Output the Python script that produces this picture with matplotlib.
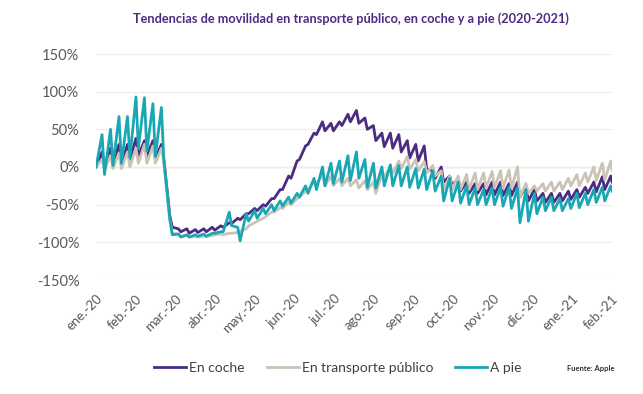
import matplotlib.pyplot as plt
import numpy as np

plt.rcParams['font.family'] = ['Lato', 'DejaVu Sans']

# Apple mobility trends, Spain (% change vs. baseline), one low and one high value per week
# first week starts Mon 13 Jan 2020; lows on day 0 of the week, highs on day 5
coche_valle = [0, 0, 5, 5, 10, 15, 15, 12, 10,
               -80, -86, -88, -87, -86, -84, -80, -75, -70,
               -62, -58, -52, -42, -30, -15, 10, 30, 43,
               48, 48, 55, 60, 58, 50, 35, 27, 25,
               20, 12, 8, -3, -15, -20, -25, -32, -35,
               -35, -37, -37, -38, -38, -40, -45, -45, -47,
               -47, -45, -43, -40, -35, -33, -30]
coche_pico = [20, 25, 30, 30, 38, 35, 35, 30, -65,
              -82, -82, -83, -82, -80, -78, -74, -68, -62,
              -55, -50, -42, -30, -12, 8, 28, 45, 60,
              58, 60, 70, 75, 65, 55, 45, 45, 43,
              35, 30, 28, -5, 0, -12, -15, -20, -22,
              -22, -20, -20, -22, -20, -25, -30, -35, -35,
              -35, -32, -30, -27, -20, -13, -12]
transporte_valle = [0, -3, -2, -2, 0, 5, 5, 5, 5,
                    -88, -92, -93, -93, -92, -90, -90, -88, -85,
                    -78, -72, -66, -60, -55, -50, -40, -30, -22,
                    -25, -25, -25, -25, -28, -30, -35, -12, -8,
                    -2, -3, -5, -8, -12, -30, -30, -30, -30,
                    -30, -28, -28, -28, -28, -40, -35, -32, -32,
                    -32, -30, -25, -25, -20, -18, -17]
transporte_pico = [10, 15, 18, 20, 25, 30, 28, 25, -70,
                   -89, -91, -92, -92, -91, -89, -88, -87, -82,
                   -74, -68, -60, -54, -47, -42, -32, -20, -10,
                   -12, -15, -15, -17, -18, -20, -10, 0, 8,
                   14, 10, 7, 2, -5, -12, -12, -10, -8,
                   -8, -6, -5, -4, 0, -22, -25, -22, -20,
                   -20, -15, -10, -8, 0, 5, 8]
pie_valle = [0, -10, 2, 5, 12, 25, 21, 14, 10,
             -90, -93, -93, -92, -92, -88, -86, -78, -98,
             -72, -68, -62, -58, -52, -48, -40, -35, -30,
             -25, -22, -20, -18, -15, -27, -28, -25, -25,
             -25, -27, -28, -30, -32, -45, -45, -48, -50,
             -50, -50, -50, -52, -55, -74, -72, -62, -58,
             -58, -58, -55, -54, -50, -47, -45]
pie_pico = [43, 50, 67, 67, 93, 92, 84, 79, -70,
            -89, -90, -90, -89, -88, -86, -60, -80, -62,
            -58, -55, -50, -45, -40, -35, -25, -15, 0,
            5, 8, 15, 20, 10, 5, 0, 3, 2,
            0, -2, -3, -5, -12, -15, -20, -25, -28,
            -30, -28, -27, -27, -28, -30, -35, -40, -40,
            -42, -42, -35, -35, -30, -27, -25]
ultimo_dia = 426
ultimo = {"coche": -20, "transporte": -4, "pie": -32}

meses = ["ene.-20", "feb.-20", "mar.-20", "abr.-20", "may.-20", "jun.-20", "jul.-20",
         "ago.-20", "sep.-20", "oct.-20", "nov.-20", "dic.-20", "ene.-21", "feb.-21"]

titulo = "Tendencias de movilidad en transporte público, en coche y a pie (2020-2021)"


def serie(valle, pico, fin):
    dias, vals = [], []
    for k, (v, p) in enumerate(zip(valle, pico)):
        dias += [7 * k, 7 * k + 5]
        vals += [v, p]
    return dias + [ultimo_dia], vals + [fin]


fig = plt.figure(figsize=(6.43, 3.94), dpi=100)
ax = fig.add_axes([96 / 643, 1 - 280 / 394, 516 / 643, 226 / 394])

series = [
    ("En coche", coche_valle, coche_pico, ultimo["coche"], "#4b2c82"),
    ("En transporte público", transporte_valle, transporte_pico, ultimo["transporte"], "#cbc3b6"),
    ("A pie", pie_valle, pie_pico, ultimo["pie"], "#19a7b4"),
]
for nombre, valle, pico, fin, color in series:
    d, v = serie(valle, pico, fin)
    ax.plot(d, v, color=color, lw=2.0, label=nombre, solid_joinstyle="round")

ax.set_xlim(0, ultimo_dia)
ax.set_ylim(-150, 150)
ax.set_yticks(range(-150, 151, 50))
ax.set_yticklabels([f"{v}%" for v in range(-150, 151, 50)])
ax.yaxis.grid(True, color="#ececec", lw=0.8)
ax.axhline(0, color="#d2d2d2", lw=1.0, zorder=0.5)
ax.set_axisbelow(True)
for s in ax.spines.values():
    s.set_visible(False)

paso = ultimo_dia / (len(meses) - 1)
ax.set_xticks([i * paso for i in range(len(meses))])
ax.set_xticklabels(meses, rotation=45, ha="right", va="top", rotation_mode="anchor")
ax.tick_params(axis="both", length=0, colors="#595959")
ax.tick_params(axis="x", labelsize=9.5, pad=9)
ax.tick_params(axis="y", labelsize=10.5, pad=12)

fig.text(0.546, 1 - 19 / 394, titulo, ha="center", va="center",
         fontsize=9.2, fontweight="bold", color="#4e2a84")

fig.legend(loc="center", bbox_to_anchor=(338 / 643, 1 - 368 / 394), ncol=3,
           frameon=False, fontsize=10, handlelength=2.3, handletextpad=0.2,
           columnspacing=1.6, labelcolor="#404040")
fig.text(567 / 643, 1 - 368 / 394, "Fuente: Apple", fontsize=5.5,
         fontweight="bold", va="center", color="#333333")

fig.savefig("out.png", dpi=100)
